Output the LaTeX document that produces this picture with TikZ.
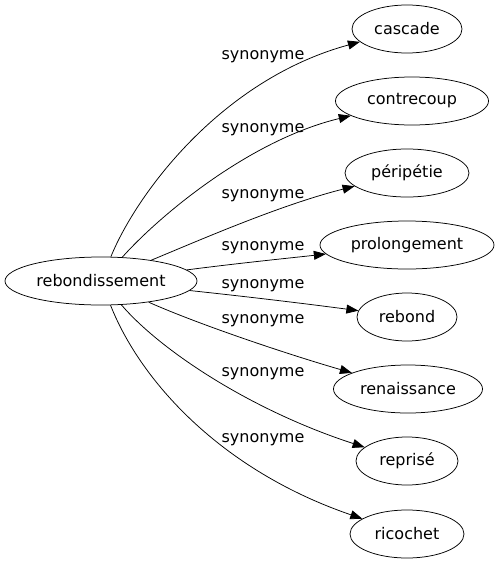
\documentclass[tikz,border=0pt]{standalone}
\usepackage{fontspec}
\setmainfont{DejaVu Sans}
\usetikzlibrary{shapes.geometric,arrows.meta,positioning}

\begin{document}
\begin{tikzpicture}[->,>={Triangle[length=12pt,width=9pt]},
x=1pt,y=-1pt,line width=0.75pt,
font=\fontsize{16}{19}\selectfont]

\tikzstyle{word}=[ellipse, draw, inner sep=0pt, minimum height=48pt,
text=black, line width=0.75pt]
\tikzstyle{rel}=[inner sep=0pt, text=black]

\useasboundingbox (0,0) rectangle (499,563);

%root word
\node[word, minimum width=192pt]
(reb) at (101,281)
{rebondissement};

%synonymes
\node[word, minimum width=110pt]
(n1) at (407,29)
{cascade};

\node[word, minimum width=153pt]
(n2) at (412,101)
{contrecoup};

\node[word, minimum width=124pt]
(n3) at (407,173)
{péripétie};

\node[word, minimum width=174pt]
(n4) at (407,245)
{prolongement};

\node[word, minimum width=100pt]
(n5) at (407,317)
{rebond};

\node[word, minimum width=149pt]
(n6) at (408,389)
{renaissance};

\node[word, minimum width=102pt]
(n7) at (407,461)
{reprisé};

\node[word, minimum width=114pt]
(n8) at (407,534)
{ricochet};

%edges
\draw (reb) .. controls (136,195) and (220,80) .. (n1);
\draw (reb) .. controls (160,215) and (250,140) .. (n2);
\draw (reb) .. controls (200,240) and (280,205) .. (n3);
\draw (reb) .. controls (240,263) and (290,258) .. (n4);
\draw (reb) .. controls (250,297) and (300,303) .. (n5);
\draw (reb) .. controls (200,325) and (290,355) .. (n6);
\draw (reb) .. controls (160,350) and (250,410) .. (n7);
\draw (reb) .. controls (140,380) and (220,470) .. (n8);

%edge labels
\node[rel] (l1) at (263,57) {synonyme};
\node[rel] (l2) at (263,130) {synonyme};
\node[rel] (l3) at (263,196) {synonyme};
\node[rel] (l4) at (263,248) {synonyme};
\node[rel] (l5) at (263,286) {synonyme};
\node[rel] (l6) at (263,321) {synonyme};
\node[rel] (l7) at (263,374) {synonyme};
\node[rel] (l8) at (263,440) {synonyme};

\end{tikzpicture}
\end{document}
